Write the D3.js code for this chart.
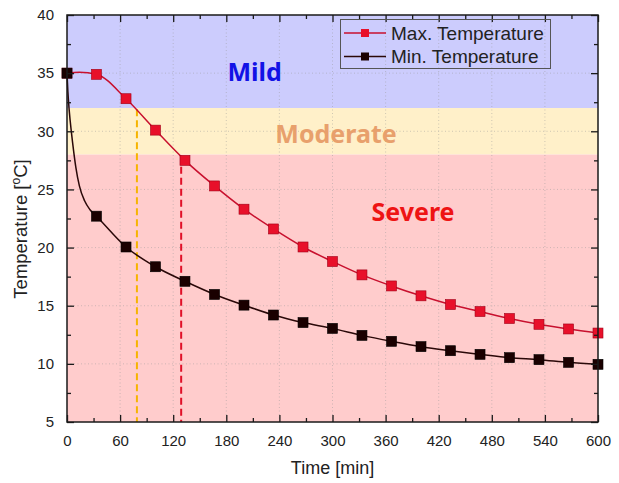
<!DOCTYPE html>
<html>
<head>
<meta charset="utf-8">
<script src="https://cdn.jsdelivr.net/npm/d3@7"></script>
<style>
  html, body { margin: 0; padding: 0; background: #fff; }
  svg { display: block; }
</style>
</head>
<body>
<svg id="chart" width="619" height="483"></svg>
<script>
// ---------------- DATA ----------------
const timeMin = [0, 33.3, 66.7, 100, 133.3, 166.7, 200, 233.3, 266.7, 300, 333.3, 366.7, 400, 433.3, 466.7, 500, 533.3, 566.7, 600];
const maxTemp = [35.0, 34.9, 32.8, 30.1, 27.5, 25.3, 23.3, 21.6, 20.05, 18.8, 17.65, 16.7, 15.85, 15.1, 14.5, 13.9, 13.4, 13.0, 12.65];
const minTemp = [35.0, 22.7, 20.05, 18.35, 17.1, 15.97, 15.05, 14.2, 13.55, 13.05, 12.45, 11.94, 11.48, 11.13, 10.82, 10.53, 10.36, 10.13, 9.96];
// curve-only points (no markers)
const maxEarlyTime = [14];
const maxEarlyTemp = [35.08];
const minEarlyTime = [1, 2.5, 5, 7.5, 10, 14, 20, 26];
const minEarlyTemp = [33.4, 31.8, 29.9, 28.3, 26.9, 25.3, 24.0, 23.25];

const zoneNames = ["Mild", "Moderate", "Severe"];
const zoneLow   = [32, 28, 5];
const zoneHigh  = [40, 32, 28];
const zoneFill  = ["#ccccfd", "#fff0c9", "#ffcccc"];
const zoneText  = ["#1212e6", "#e8a06c", "#ee1414"];
const zoneLabelT = [212, 304, 391];     // label centre (min)
const zoneLabelV = [34.3, 29.0, 22.3];  // label baseline (°C)

const markTime  = [79, 129];
const markTemp  = [31.9, 27.9];
const markColor = ["#f6b400", "#e01028"];

const xTicks = [0, 60, 120, 180, 240, 300, 360, 420, 480, 540, 600];
const xMinor = [30, 90, 150, 210, 270, 330, 390, 450, 510, 570];
const yTicks = [5, 10, 15, 20, 25, 30, 35, 40];
const yMinor = [7.5, 12.5, 17.5, 22.5, 27.5, 32.5, 37.5];

const seriesNames = ["Max. Temperature", "Min. Temperature"];

// ---------------- CHART ----------------
const svg = d3.select("#chart");
const L = 67, R = 598, T = 15, B = 422;
const x = d3.scaleLinear().domain([0, 600]).range([L, R]);
const y = d3.scaleLinear().domain([5, 40]).range([B, T]);

const font = "'Liberation Sans', Arial, sans-serif";

// zone bands
svg.append("g").selectAll("rect").data(zoneNames).join("rect")
  .attr("x", x(0)).attr("width", x(600) - x(0))
  .attr("y", (d, i) => y(zoneHigh[i]))
  .attr("height", (d, i) => y(zoneLow[i]) - y(zoneHigh[i]))
  .attr("fill", (d, i) => zoneFill[i]);

// grid
const grid = svg.append("g").attr("stroke", "#9a9a9a").attr("stroke-width", 0.8)
  .attr("stroke-dasharray", "1,2.5").attr("opacity", 0.6);
grid.selectAll(".gx").data(xTicks.slice(1, -1)).join("line")
  .attr("x1", d => x(d)).attr("x2", d => x(d)).attr("y1", y(5)).attr("y2", y(40));
grid.selectAll(".gy").data(yTicks.slice(1, -1)).join("line")
  .attr("y1", d => y(d)).attr("y2", d => y(d)).attr("x1", x(0)).attr("x2", x(600));

// zone labels
svg.append("g").selectAll("text").data(zoneNames).join("text")
  .attr("x", (d, i) => x(zoneLabelT[i])).attr("y", (d, i) => y(zoneLabelV[i]))
  .attr("text-anchor", "middle")
  .attr("font-family", "'Noto Sans', 'Open Sans', sans-serif").attr("font-weight", "bold")
  .attr("font-size", 25)
  .attr("fill", (d, i) => zoneText[i])
  .text(d => d);

// dashed markers
svg.append("g").selectAll("line").data(markTime).join("line")
  .attr("x1", d => x(d)).attr("x2", d => x(d))
  .attr("y1", (d, i) => y(markTemp[i])).attr("y2", y(5))
  .attr("stroke", (d, i) => markColor[i]).attr("stroke-width", 2)
  .attr("stroke-dasharray", "7,4");

// lines
const maxPts = timeMin.map((t, i) => [t, maxTemp[i]]);
const minPts = timeMin.map((t, i) => [t, minTemp[i]]);
const maxLinePts = [maxPts[0]].concat(maxEarlyTime.map((t, i) => [t, maxEarlyTemp[i]]), maxPts.slice(1));
const minLinePts = [minPts[0]].concat(minEarlyTime.map((t, i) => [t, minEarlyTemp[i]]), minPts.slice(1));

const line = d3.line().x(d => x(d[0])).y(d => y(d[1])).curve(d3.curveMonotoneX);

const maxColor = "#c8102e", maxMark = "#e8102a";
const minColor = "#2a0808", minMark = "#1a0000";

svg.append("path").datum(maxLinePts).attr("d", line)
  .attr("fill", "none").attr("stroke", maxColor).attr("stroke-width", 1.5);
svg.append("path").datum(minLinePts).attr("d", line)
  .attr("fill", "none").attr("stroke", minColor).attr("stroke-width", 1.5);

const ms = 10;
svg.append("g").selectAll("rect").data(maxPts).join("rect")
  .attr("x", d => x(d[0]) - ms / 2).attr("y", d => y(d[1]) - ms / 2)
  .attr("width", ms).attr("height", ms)
  .attr("fill", maxMark).attr("stroke", "#a00018").attr("stroke-width", 0.6);
svg.append("g").selectAll("rect").data(minPts).join("rect")
  .attr("x", d => x(d[0]) - ms / 2).attr("y", d => y(d[1]) - ms / 2)
  .attr("width", ms).attr("height", ms)
  .attr("fill", minMark).attr("stroke", "#000").attr("stroke-width", 0.6);

// axes
const axisColor = "#1a1a1a";
function styleAxis(g) {
  g.select(".domain").remove();
  g.selectAll("line").attr("stroke", axisColor).attr("stroke-width", 1.3);
  g.selectAll("text").attr("font-family", font).attr("font-size", 15).attr("fill", "#222");
}
const xb = svg.append("g").attr("transform", `translate(0,${B})`)
  .call(d3.axisBottom(x).tickValues(xTicks).tickSize(-7).tickPadding(13).tickFormat(d3.format("d")));
styleAxis(xb);
const xbm = svg.append("g").attr("transform", `translate(0,${B})`)
  .call(d3.axisBottom(x).tickValues(xMinor).tickSize(-4).tickFormat(""));
styleAxis(xbm);
const xt = svg.append("g").attr("transform", `translate(0,${T})`)
  .call(d3.axisTop(x).tickValues(xTicks).tickSize(-7).tickFormat(""));
styleAxis(xt);
const xtm = svg.append("g").attr("transform", `translate(0,${T})`)
  .call(d3.axisTop(x).tickValues(xMinor).tickSize(-4).tickFormat(""));
styleAxis(xtm);

const yl = svg.append("g").attr("transform", `translate(${L},0)`)
  .call(d3.axisLeft(y).tickValues(yTicks).tickSize(-7).tickPadding(13).tickFormat(d3.format("d")));
styleAxis(yl);
const ylm = svg.append("g").attr("transform", `translate(${L},0)`)
  .call(d3.axisLeft(y).tickValues(yMinor).tickSize(-4).tickFormat(""));
styleAxis(ylm);
const yr = svg.append("g").attr("transform", `translate(${R},0)`)
  .call(d3.axisRight(y).tickValues(yTicks).tickSize(-7).tickFormat(""));
styleAxis(yr);
const yrm = svg.append("g").attr("transform", `translate(${R},0)`)
  .call(d3.axisRight(y).tickValues(yMinor).tickSize(-4).tickFormat(""));
styleAxis(yrm);

// frame
svg.append("rect").attr("x", L).attr("y", T).attr("width", R - L).attr("height", B - T)
  .attr("fill", "none").attr("stroke", axisColor).attr("stroke-width", 1.5);

// axis titles
svg.append("text").attr("x", (L + R) / 2).attr("y", 474).attr("text-anchor", "middle")
  .attr("font-family", font).attr("font-size", 18).attr("fill", "#222").text("Time [min]");
const yt = svg.append("text").attr("transform", `translate(27,229) rotate(-90)`)
  .attr("text-anchor", "middle").attr("font-family", font).attr("font-size", 18.5).attr("fill", "#222");
yt.append("tspan").text("Temperature [");
yt.append("tspan").attr("font-size", 12).attr("dy", -7).text("o");
yt.append("tspan").attr("dy", 7).text("C]");

// legend
const lg = svg.append("g");
lg.append("rect").attr("x", 340.5).attr("y", 19.5).attr("width", 210).attr("height", 49)
  .attr("fill", "none").attr("stroke", "#555").attr("stroke-width", 1);
const legColors = [[maxColor, maxMark], [minColor, minMark]];
seriesNames.forEach((name, i) => {
  const ly = 33 + i * 23.5;
  lg.append("line").attr("x1", 344).attr("x2", 386).attr("y1", ly).attr("y2", ly)
    .attr("stroke", legColors[i][0]).attr("stroke-width", 1.5);
  lg.append("rect").attr("x", 365 - 4).attr("y", ly - 4).attr("width", 8).attr("height", 8)
    .attr("fill", legColors[i][1]);
  lg.append("text").attr("x", 391).attr("y", ly + 6.5)
    .attr("font-family", font).attr("font-size", 19).attr("fill", "#222").text(name);
});
</script>
</body>
</html>
